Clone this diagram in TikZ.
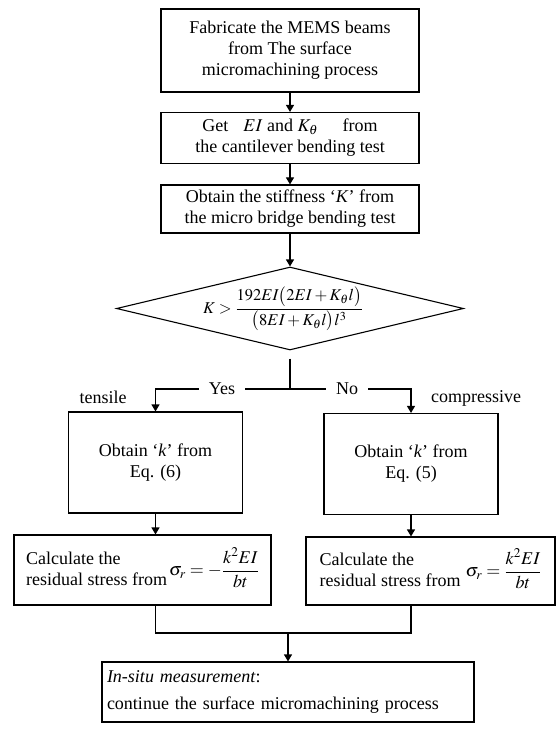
\documentclass[tikz,border=0pt]{standalone}
\usepackage{amsmath}
\usepackage{mathptmx}
\usepackage[no-math]{fontspec}
\setmainfont{Liberation Serif}
\usetikzlibrary{shapes.geometric,arrows.meta,calc}
\begin{document}
\begin{tikzpicture}[x=1pt,y=-1pt,
  font=\fontsize{18}{21}\selectfont,
  box/.style={draw, line width=1.1pt, inner sep=0pt, align=center},
  arr/.style={line width=1.1pt, -{Triangle[length=7pt,width=8pt]}},
  ln/.style={line width=1.1pt},
  lbl/.style={inner sep=0pt}]
\useasboundingbox (0,0) rectangle (557,730);

\node[box, minimum width=258pt, minimum height=83pt] (b1) at (290,50.5)
  {Fabricate the MEMS beams\\from The surface\\micromachining process};
\node[box, minimum width=258pt, minimum height=51pt] (b2) at (290,138)
  {Get\hspace{15pt}$EI$ and $K_\theta$\hspace{20pt} from\\the cantilever bending test};
\node[box, minimum width=258pt, minimum height=48pt] (b3) at (290,209)
  {Obtain the stiffness ‘\textit{K}’ from\\the micro bridge bending test};

\node[draw, diamond, line width=1.1pt, inner sep=0pt, minimum width=347pt, minimum height=83pt] (d) at (290,308.5) {};
\node[lbl, font=\fontsize{16.5}{19}\selectfont] (dtext) at (283,309)
  {$K > \dfrac{192EI\bigl(2EI + K_\theta l\bigr)}{\bigl(8EI + K_\theta l\bigr)l^3}$};

\coordinate (split) at (290,389);
\node[inner xsep=10pt, inner ysep=0pt] (yes) at (222,389) {Yes};
\node[inner xsep=10pt, inner ysep=0pt] (no) at (347,389) {No};
\node[lbl] (tens) at (103,397) {tensile};
\node[lbl] (comp) at (476,398) {compressive};

\node[box, minimum width=174pt, minimum height=101pt] (b4) at (155.5,462.5)
  {Obtain ‘\textit{k}’ from\\Eq. (6)};
\node[box, minimum width=174pt, minimum height=101pt] (b5) at (411,464)
  {Obtain ‘\textit{k}’ from\\Eq. (5)};

\node[box, minimum width=257pt, minimum height=70pt] (cl) at (142.5,570)
  {\begin{tabular}{@{}l@{}}Calculate the\\residual stress from\end{tabular}\hspace{2pt}$\sigma_r = -\dfrac{k^2EI}{bt}$};
\node[box, minimum width=249pt, minimum height=68pt] (cr) at (430.5,571)
  {\begin{tabular}{@{}l@{}}Calculate the\\residual stress from\end{tabular}\hspace{5pt}$\sigma_r = \dfrac{k^2EI}{bt}$};

\coordinate (m) at (288,633);
\node[box, minimum width=372pt, minimum height=60pt, text width=362pt, align=left] (bot) at (288,692)
  {\textit{In-situ measurement}:\\[6pt]continue the surface micromachining process};

\draw[arr] (b1.south) -- (b2.north);
\draw[arr] (b2.south) -- (b3.north);
\draw[arr] (b3.south) -- (d.north);
\draw[ln, shorten <=8pt] (d.south) -- (split);
\draw[ln] (split) -- (yes.east);
\draw[ln] (split) -- (no.west);
\draw[arr] (yes.west) -- (yes.west -| b4.north) -- (b4.north);
\draw[arr] (no.east) -- (no.east -| b5.north) -- (b5.north);
\draw[arr] (b4.south) -- (b4.south |- cl.north);
\draw[arr] (b5.south) -- (b5.south |- cr.north);
\draw[ln] (b4.south |- cl.south) |- (m) -| (b5.south |- cr.south);
\draw[arr] (m) -- (bot.north);
\end{tikzpicture}
\end{document}
